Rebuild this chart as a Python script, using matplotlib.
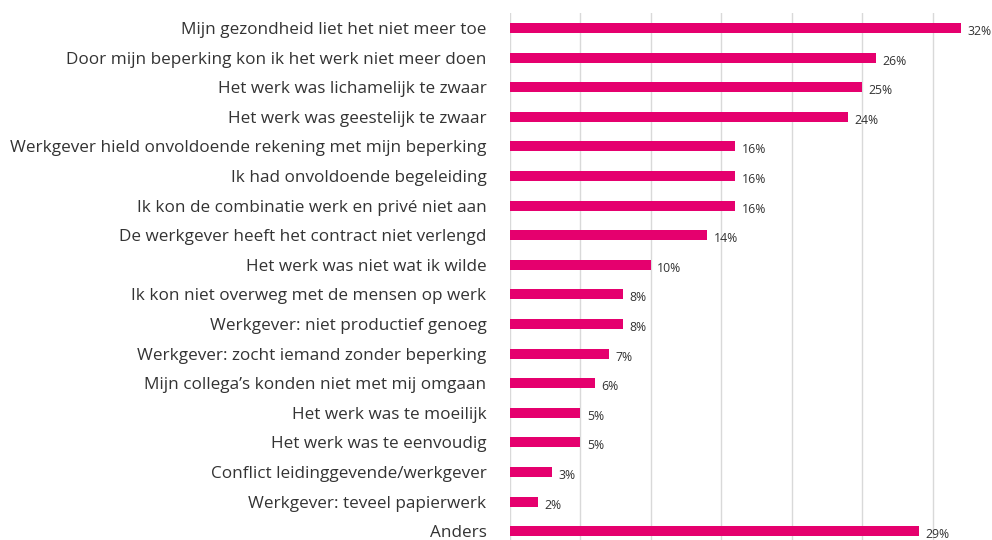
import matplotlib
matplotlib.use("Agg")
import matplotlib.pyplot as plt

categories = [
    "Mijn gezondheid liet het niet meer toe",
    "Door mijn beperking kon ik het werk niet meer doen",
    "Het werk was lichamelijk te zwaar",
    "Het werk was geestelijk te zwaar",
    "Werkgever hield onvoldoende rekening met mijn beperking",
    "Ik had onvoldoende begeleiding",
    "Ik kon de combinatie werk en privé niet aan",
    "De werkgever heeft het contract niet verlengd",
    "Het werk was niet wat ik wilde",
    "Ik kon niet overweg met de mensen op werk",
    "Werkgever: niet productief genoeg",
    "Werkgever: zocht iemand zonder beperking",
    "Mijn collega’s konden niet met mij omgaan",
    "Het werk was te moeilijk",
    "Het werk was te eenvoudig",
    "Conflict leidinggevende/werkgever",
    "Werkgever: teveel papierwerk",
    "Anders",
]
values = [32, 26, 25, 24, 16, 16, 16, 14, 10, 8, 8, 7, 6, 5, 5, 3, 2, 29]
gridticks = [0, 5, 10, 15, 20, 25, 30]

bar_color = "#E5006E"
text_color = "#333333"

plt.rcParams["font.family"] = ["Open Sans", "DejaVu Sans"]

fig = plt.figure(figsize=(9.92, 5.4), dpi=100)
ax = fig.add_axes([510 / 992, -6 / 540, 482 / 992, 532.8 / 540])

y = list(range(len(categories)))
ax.barh(y, values, height=0.34, color=bar_color, zorder=3)

for yi, v in zip(y, values):
    ax.text(v + 0.45, yi + 0.12, f"{v}%", va="center", ha="left",
            fontsize=8.8, color=text_color, zorder=4)

ax.set_xlim(0, 34.2)
ax.set_ylim(len(categories) - 0.5, -0.5)
ax.set_xticks(gridticks)
ax.set_xticklabels([])
ax.tick_params(axis="x", length=0)
ax.set_yticks(y)
ax.set_yticklabels(categories, fontsize=12.3, color=text_color)
ax.tick_params(axis="y", length=0, pad=17)
ax.grid(axis="x", color="#D9D9D9", linewidth=1.0, zorder=0)
for s in ax.spines.values():
    s.set_visible(False)

fig.savefig("out.png", dpi=100)
